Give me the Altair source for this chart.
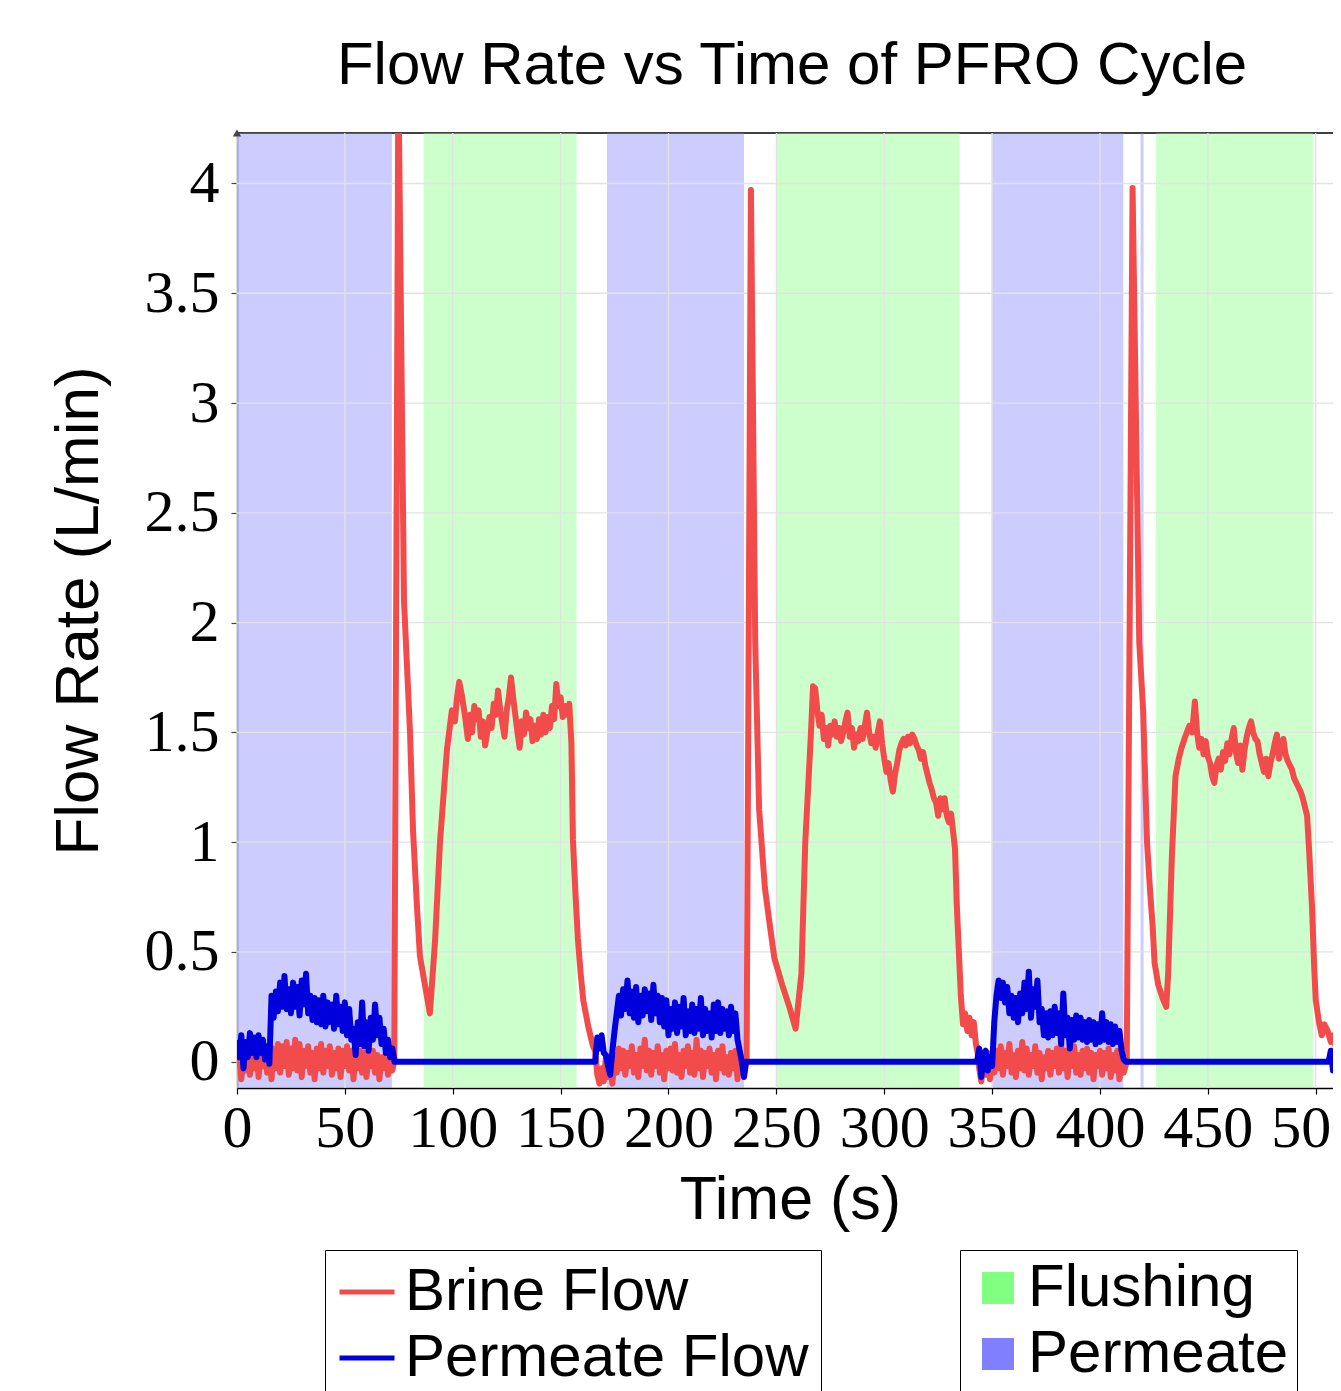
import altair as alt
import pandas as pd

# ---------------- data ----------------
band_phase = ["Permeate", "Flushing", "Permeate", "Flushing", "Permeate", "Permeate", "Flushing"]
band_start = [0, 86.5, 171.5, 250, 349.8, 418.8, 426]
band_end = [71.8, 157.4, 235, 335, 410.8, 420.2, 498.7]

# brine flow, permeate phase 1 (one sample per second from t=0)
brine_perm1 = [-0.02, 0.03, -0.08, 0.02, -0.04, 0.04, -0.06, 0.03, -0.03, 0.05,
               -0.07, 0.02, -0.02, 0.06, -0.05, 0.04, -0.08, 0.06, -0.03, 0.08,
               -0.05, 0.07, -0.02, 0.09, -0.06, 0.06, -0.03, 0.10, -0.04, 0.08,
               -0.07, 0.05, -0.02, 0.07, -0.05, 0.04, -0.08, 0.06, -0.03, 0.08,
               -0.05, 0.05, -0.02, 0.07, -0.06, 0.04, -0.03, 0.06, -0.07, 0.05,
               -0.02, 0.07, -0.04, 0.05, -0.08, 0.03, -0.03, 0.05, -0.05, 0.04,
               -0.07, 0.03, -0.02, 0.05, -0.05, 0.03, -0.08, 0.02, -0.03, 0.04,
               -0.06, 0.02, -0.04]
brine_c1_rise = [(72.9, 0.0), (74.8, 4.5), (77.4, 2.1), (80.2, 1.5), (81.6, 1.05), (83.4, 0.71),
                 (84.8, 0.48), (87.1, 0.35), (89.4, 0.22), (91.8, 0.55), (94.1, 1.0), (97.3, 1.42),
                 (99.6, 1.6), (101, 1.55), (102, 1.66)]
brine_plateau1 = [1.73, 1.68, 1.62, 1.55, 1.47, 1.58, 1.50, 1.62, 1.56, 1.60,
                  1.48, 1.55, 1.44, 1.50, 1.57, 1.52, 1.63, 1.58, 1.69, 1.60,
                  1.54, 1.48, 1.60, 1.66, 1.75, 1.66, 1.58, 1.50, 1.43, 1.55,
                  1.49, 1.59, 1.52, 1.56, 1.46, 1.53, 1.47, 1.56, 1.49, 1.58,
                  1.50, 1.57, 1.52, 1.62, 1.56, 1.72, 1.62, 1.66, 1.57, 1.62,
                  1.58, 1.63]
brine_c1_fall = [(155, 1.45), (155.7, 1.01), (156.8, 0.78), (158, 0.56), (159.3, 0.40),
                 (160.5, 0.28), (162.8, 0.16), (165, 0.07)]
brine_perm2 = [0.05, -0.06, -0.10, -0.03, -0.09, 0.02, -0.07, -0.04, -0.10, 0.03,
               -0.05, 0.06, -0.03, 0.05, -0.06, 0.04, -0.02, 0.07, -0.05, 0.03,
               -0.07, 0.06, -0.02, 0.10, -0.04, 0.05, -0.06, 0.04, -0.02, 0.07,
               -0.05, 0.03, -0.08, 0.05, -0.03, 0.06, -0.04, 0.08, -0.05, 0.03,
               -0.07, 0.05, -0.02, 0.07, -0.05, 0.04, -0.06, 0.10, -0.03, 0.05,
               -0.07, 0.04, -0.02, 0.06, -0.05, 0.03, -0.08, 0.05, -0.03, 0.07,
               -0.05, 0.02, -0.06, 0.04, -0.03, 0.05, -0.08, 0.02, -0.05, -0.02]
brine_c2_rise = [(236.2, 0.0), (238.2, 3.97), (240.2, 1.91), (242, 1.15), (244.7, 0.79), (247, 0.62),
                 (249.1, 0.47), (252.7, 0.35), (256, 0.25), (258.9, 0.15), (261.6, 0.40),
                 (263.4, 1.0), (265, 1.30), (266, 1.49), (267, 1.71)]
brine_plateau2 = [1.70, 1.60, 1.53, 1.58, 1.47, 1.52, 1.44, 1.53, 1.49, 1.55,
                  1.48, 1.52, 1.46, 1.50, 1.55, 1.59, 1.48, 1.52, 1.43, 1.49,
                  1.46, 1.52, 1.47, 1.53, 1.59, 1.50, 1.45, 1.48, 1.43, 1.50,
                  1.55, 1.45, 1.38, 1.32, 1.36, 1.28, 1.23, 1.31, 1.36, 1.42,
                  1.45, 1.47, 1.44, 1.48, 1.45, 1.49, 1.47, 1.44, 1.42, 1.38,
                  1.41, 1.35, 1.31, 1.27, 1.24, 1.20, 1.18, 1.12, 1.20, 1.15,
                  1.20, 1.12, 1.09, 1.13, 1.04]
brine_c2_fall = [(332.8, 0.97), (333.6, 0.72), (334.5, 0.52), (335.5, 0.30), (336.5, 0.17),
                 (337.5, 0.22), (338.5, 0.14), (339.5, 0.20), (340.5, 0.12), (341.5, 0.18),
                 (342.5, 0.08), (343.3, 0.04)]
brine_perm3 = [-0.03, -0.09, 0.03, -0.06, 0.04, -0.08, 0.02, -0.05, 0.05, -0.03,
               0.07, -0.06, 0.04, -0.02, 0.08, -0.05, 0.03, -0.07, 0.05, -0.03,
               0.09, -0.04, 0.06, -0.06, 0.03, -0.02, 0.07, -0.05, 0.04, -0.08,
               0.02, -0.03, 0.05, -0.06, 0.04, -0.02, 0.06, -0.05, 0.08, -0.03,
               0.05, -0.07, 0.06, -0.02, 0.07, -0.05, 0.03, -0.06, 0.05, -0.03,
               0.06, -0.05, 0.04, -0.08, 0.03, -0.02, 0.05, -0.06, 0.04, -0.03,
               0.06, -0.07, 0.03, -0.04, 0.05, -0.08, 0.02, -0.05]
brine_c3_rise = [(412.4, 0.0), (415.1, 3.98), (418.2, 1.91), (420, 1.6), (421.8, 1.0), (423.2, 0.78),
                 (424.4, 0.62), (425.3, 0.45), (427, 0.35), (429, 0.29), (430.7, 0.25),
                 (431.6, 0.40), (433.3, 0.93), (435, 1.30), (436.5, 1.38), (437.8, 1.43),
                 (439.5, 1.48), (441.4, 1.53), (442.7, 1.50), (444, 1.64)]
brine_plateau3 = [1.50, 1.43, 1.47, 1.40, 1.46, 1.39, 1.36, 1.30, 1.27, 1.35,
                  1.38, 1.33, 1.41, 1.37, 1.45, 1.40, 1.47, 1.52, 1.41, 1.36,
                  1.44, 1.33, 1.42, 1.48, 1.52, 1.55, 1.50, 1.47, 1.46, 1.40,
                  1.36, 1.32, 1.38, 1.30, 1.36, 1.40, 1.45, 1.49, 1.38, 1.43,
                  1.47, 1.40, 1.37, 1.35, 1.33, 1.29, 1.27, 1.25, 1.23, 1.20,
                  1.16, 1.12]
brine_c3_fall = [(497, 0.95), (498.3, 0.70), (499.2, 0.45), (500, 0.28), (501.5, 0.18),
                 (502.8, 0.12), (504, 0.17), (505.5, 0.14), (507, 0.09), (508, 0.12),
                 (509, 0.08), (510, 0.02)]

# permeate flow (one sample per second inside each permeate phase)
perm_phase1 = [0.10, 0.02, 0.12, -0.03, 0.09, 0.02, 0.13, 0.04, 0.11, 0.02, 0.12, 0.04, 0.10, 0.01, 0.07, -0.01,
               0.30, 0.20, 0.32, 0.23, 0.36, 0.25, 0.39, 0.24, 0.33, 0.22, 0.36, 0.25, 0.34, 0.21, 0.37, 0.26,
               0.40, 0.22, 0.30, 0.19,
               0.29, 0.18, 0.28, 0.17, 0.30, 0.16, 0.27, 0.18, 0.26, 0.15, 0.30, 0.17, 0.25, 0.14, 0.27, 0.12,
               0.24, 0.10, 0.15, 0.03,
               0.18, 0.08, 0.27, 0.07, 0.18, 0.05, 0.20, 0.10, 0.26, 0.12, 0.20, 0.08, 0.15, 0.04, 0.10, 0.02,
               0.06, 0.00]
perm_phase2 = [0.00, 0.11, 0.06, 0.12, 0.04, 0.03, -0.02, -0.06, 0.05, 0.14,
               0.22, 0.30, 0.21, 0.33, 0.24, 0.37, 0.22, 0.32, 0.20, 0.34, 0.18, 0.30, 0.21, 0.33, 0.23, 0.31,
               0.19, 0.35, 0.22, 0.30,
               0.18, 0.29, 0.16, 0.28, 0.12, 0.24, 0.15, 0.27, 0.13, 0.25, 0.16, 0.29, 0.12, 0.23, 0.14, 0.26,
               0.13, 0.24, 0.15, 0.29,
               0.12, 0.24, 0.14, 0.22, 0.11, 0.26, 0.14, 0.27, 0.13, 0.24, 0.15, 0.23, 0.12, 0.25, 0.14, 0.22,
               0.10, 0.05, 0.00, -0.07, 0.00]
perm_phase3 = [0.00, 0.06, -0.07, 0.03, 0.05, -0.04, 0.02, -0.02,
               0.18, 0.30, 0.37, 0.29, 0.36, 0.27, 0.34, 0.22, 0.30, 0.20, 0.29, 0.18, 0.31, 0.22, 0.36, 0.24,
               0.41, 0.20, 0.33, 0.25,
               0.37, 0.18, 0.24, 0.12, 0.22, 0.11, 0.23, 0.12, 0.25, 0.13, 0.22, 0.08, 0.31, 0.12, 0.20, 0.06,
               0.19, 0.10, 0.21, 0.11,
               0.20, 0.10, 0.18, 0.09, 0.19, 0.10, 0.18, 0.08, 0.17, 0.09, 0.22, 0.10, 0.18, 0.09, 0.17, 0.08,
               0.16, 0.09, 0.14, 0.05, 0.01, 0.00]
perm_tail = [(506, 0.0), (507, 0.05), (508, -0.04), (509, 0.03), (510, 0.0)]

x_ticks = [0, 50, 100, 150, 200, 250, 300, 350, 400, 450, 500]
y_ticks = [0, 0.5, 1, 1.5, 2, 2.5, 3, 3.5, 4]
X_DOMAIN = [0, 508]
Y_DOMAIN = [-0.12, 4.23]


def from_start(start, vals):
    return [(start + i, v) for i, v in enumerate(vals)]


brine = (from_start(0, brine_perm1) + brine_c1_rise + from_start(103, brine_plateau1) + brine_c1_fall
         + from_start(166, brine_perm2) + brine_c2_rise + from_start(268, brine_plateau2) + brine_c2_fall
         + from_start(344, brine_perm3) + brine_c3_rise + from_start(445, brine_plateau3) + brine_c3_fall)
perm = (from_start(0, perm_phase1) + from_start(166, perm_phase2) + from_start(343, perm_phase3) + perm_tail)

rows = []
for i, (t, v) in enumerate(brine):
    rows.append({"t": t, "v": v, "series": "Brine Flow", "idx": i})
for i, (t, v) in enumerate(perm):
    rows.append({"t": t, "v": v, "series": "Permeate Flow", "idx": 10000 + i})
lines_df = pd.DataFrame(rows)

bands_df = pd.DataFrame({"phase": band_phase, "start": band_start, "end": band_end})
gx_df = pd.DataFrame({"g": x_ticks})
gy_df = pd.DataFrame({"g": y_ticks})

# ---------------- styling ----------------
SANS = "Liberation Sans"
SERIF = "Liberation Serif"
PLOT_W = 1096
PLOT_H = 955

xs = alt.Scale(domain=X_DOMAIN, nice=False, zero=False)
ys = alt.Scale(domain=Y_DOMAIN, nice=False, zero=False)

X_AXIS = alt.Axis(values=x_ticks, grid=False, title="Time (s)", titleFont=SANS, titleFontSize=61,
                  titleFontWeight="normal", titleColor="black", titlePadding=12, titleX=553,
                  labelFont=SERIF, labelFontSize=60, labelColor="black", labelPadding=5,
                  labelFlush=False, labelOverlap=False, tickSize=6, tickColor="black",
                  tickWidth=1.2, domainColor="black", domainWidth=1.5)
Y_AXIS = alt.Axis(values=y_ticks, grid=False, title="Flow Rate (L/min)", titleFont=SANS,
                  titleFontSize=62, titleFontWeight="normal", titleColor="black", titlePadding=34,
                  labelFont=SERIF, labelFontSize=60, labelColor="black", labelPadding=12,
                  labelFlush=False, labelOverlap=False, format=".1~f", tickSize=6,
                  tickColor="#444444", tickWidth=1.2, domainColor="#444444", domainWidth=1.5)

top_line = alt.Chart(pd.DataFrame({"g": [Y_DOMAIN[1]]})).mark_rule(color="black", strokeWidth=1.5).encode(
    y=alt.Y("g:Q", scale=ys, axis=Y_AXIS)
)

bands = alt.Chart(bands_df).mark_rect(opacity=0.4).encode(
    x=alt.X("start:Q", scale=xs, axis=X_AXIS),
    x2="end:Q",
    y=alt.YDatum(Y_DOMAIN[0], type="quantitative", scale=ys, axis=Y_AXIS),
    y2=alt.datum(Y_DOMAIN[1]),
    fill=alt.Fill("phase:N",
                  scale=alt.Scale(domain=["Flushing", "Permeate"], range=["#80ff80", "#8080ff"]),
                  legend=alt.Legend(title=None, orient="none", legendX=723, legendY=1117,
                                    strokeColor="black", fillColor="white", padding=8,
                                    labelFont=SANS, labelFontSize=60, labelColor="black",
                                    labelLimit=800, labelOffset=0, rowPadding=6,
                                    symbolType="square", symbolSize=1024, symbolOpacity=1,
                                    symbolStrokeWidth=0)),
)

grid_x = alt.Chart(gx_df).mark_rule(color="#e2e2e2", strokeWidth=1.3).encode(
    x=alt.X("g:Q", scale=xs, axis=X_AXIS)
)
grid_y = alt.Chart(gy_df).mark_rule(color="#e2e2e2", strokeWidth=1.3).encode(
    y=alt.Y("g:Q", scale=ys, axis=Y_AXIS)
)

lines = alt.Chart(lines_df).mark_line(strokeWidth=6, clip=True, strokeJoin="round").encode(
    x=alt.X("t:Q", scale=xs, axis=X_AXIS),
    y=alt.Y("v:Q", scale=ys, axis=Y_AXIS),
    color=alt.Color("series:N",
                    scale=alt.Scale(domain=["Brine Flow", "Permeate Flow"], range=["#f24b4b", "#0000dd"]),
                    legend=alt.Legend(title=None, orient="none", legendX=88, legendY=1117,
                                      strokeColor="black", fillColor="white", padding=12,
                                      labelFont=SANS, labelFontSize=60, labelColor="black",
                                      labelLimit=800, labelOffset=8, rowPadding=6, symbolType="stroke",
                                      symbolSize=3025, symbolStrokeWidth=5, symbolOpacity=1)),
    order="idx:Q",
)

arrow = alt.Chart(pd.DataFrame({"t": [X_DOMAIN[0]], "v": [Y_DOMAIN[1]]})).mark_point(
    shape="triangle-up", filled=True, color="#444444", size=70, opacity=1
).encode(x=alt.X("t:Q", scale=xs, axis=X_AXIS), y=alt.Y("v:Q", scale=ys, axis=Y_AXIS))

chart = alt.layer(top_line, bands, grid_x, grid_y, lines, arrow).resolve_scale(
    color="independent", fill="independent"
).properties(
    width=PLOT_W,
    height=PLOT_H,
    autosize=alt.AutoSizeParams(type="none"),
    padding={"left": 229, "top": 125, "right": 0, "bottom": 330},
    title=alt.TitleParams("Flow Rate vs Time of PFRO Cycle", font=SANS, fontSize=60,
                          fontWeight="normal", color="black", offset=32, anchor="middle", dx=7),
).configure_view(strokeWidth=0)

chart.save("out.html", embed_options={"renderer": "svg", "actions": False})
